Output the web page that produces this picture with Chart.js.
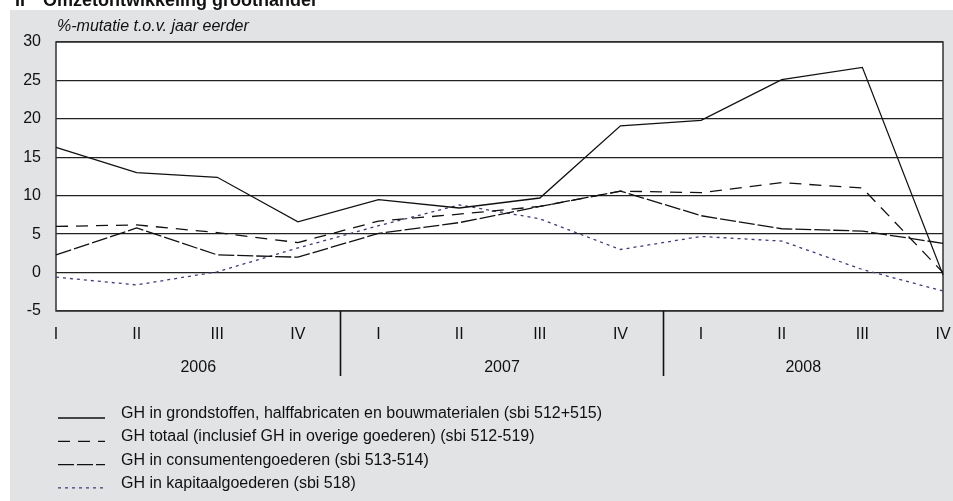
<!DOCTYPE html>
<html>
<head>
<meta charset="utf-8">
<script src="https://cdn.jsdelivr.net/npm/chart.js@4/dist/chart.umd.min.js"></script>
<style>
  html, body { margin: 0; padding: 0; background: #fff; }
  #wrap { width: 953px; height: 501px; }
</style>
</head>
<body>
<div id="wrap"><canvas id="omzetChart" width="953" height="501"></canvas></div>
<script>
// data
var quarters = ["I", "II", "III", "IV", "I", "II", "III", "IV", "I", "II", "III", "IV"];
var years = ["2006", "2007", "2008"];
var grondstoffen = [16.3, 13.0, 12.4, 6.6, 9.5, 8.4, 9.7, 19.1, 19.8, 25.1, 26.7, -0.3];
var totaal = [6.0, 6.2, 5.2, 3.9, 6.7, 7.6, 8.6, 10.6, 10.4, 11.7, 11.0, 0.0];
var consumenten = [2.3, 5.8, 2.3, 2.0, 5.1, 6.5, 8.6, 10.6, 7.4, 5.7, 5.4, 3.8];
var kapitaal = [-0.6, -1.6, 0.1, 3.2, 6.1, 8.8, 7.0, 3.0, 4.7, 4.1, 0.4, -2.4];
var seriesNames = [
    "GH in grondstoffen, halffabricaten en bouwmaterialen (sbi 512+515)",
    "GH totaal (inclusief GH in overige goederen) (sbi 512-519)",
    "GH in consumentengoederen (sbi 513-514)",
    "GH in kapitaalgoederen (sbi 518)"
];
var yTicks = [-5, 0, 5, 10, 15, 20, 25, 30];

var FONT = "'Liberation Sans', Arial, Helvetica, sans-serif";
var styles = [
    { color: '#111', dash: [] },
    { color: '#111', dash: [12, 8] },
    { color: '#111', dash: [16, 3] },
    { color: '#3c3c78', dash: [3, 4] }
];
var seriesData = [grondstoffen, totaal, consumenten, kapitaal];

var decorPlugin = {
    id: 'decor',
    beforeDraw: function (chart) {
        var ctx = chart.ctx, a = chart.chartArea;
        ctx.save();
        ctx.fillStyle = '#fff';
        ctx.fillRect(0, 0, chart.width, chart.height);
        ctx.fillStyle = '#e2e3e5';
        ctx.fillRect(10, 10, chart.width - 10, chart.height - 10);
        ctx.fillStyle = '#fff';
        ctx.fillRect(a.left, a.top, a.right - a.left, a.bottom - a.top);
        // cut-off heading at the very top
        ctx.fillStyle = '#111';
        ctx.font = 'bold 18px ' + FONT;
        ctx.textBaseline = 'alphabetic';
        ctx.fillText('II', 15, 6);
        ctx.fillText('Omzetontwikkeling groothandel', 43, 6);
        // unit label
        ctx.font = 'italic 16px ' + FONT;
        ctx.textBaseline = 'middle';
        ctx.fillText('%-mutatie t.o.v. jaar eerder', 57, 27);
        ctx.restore();
    },
    beforeDatasetsDraw: function (chart) {
        var ctx = chart.ctx, a = chart.chartArea, x = chart.scales.x;
        ctx.save();
        ctx.strokeStyle = '#333';
        ctx.lineWidth = 1.5;
        ctx.strokeRect(a.left, a.top, a.right - a.left, a.bottom - a.top);
        // year separators and year labels
        ctx.strokeStyle = '#111';
        ctx.lineWidth = 1.6;
        var bounds = [a.left];
        [3, 7].forEach(function (i) {
            var sx = Math.round((x.getPixelForValue(i) + x.getPixelForValue(i + 1)) / 2) + 2.5;
            bounds.push(sx);
            ctx.beginPath();
            ctx.moveTo(sx, a.bottom);
            ctx.lineTo(sx, 376);
            ctx.stroke();
        });
        bounds.push(a.right);
        ctx.fillStyle = '#111';
        ctx.font = '16px ' + FONT;
        ctx.textAlign = 'center';
        ctx.textBaseline = 'middle';
        years.forEach(function (yr, k) {
            ctx.fillText(yr, (bounds[k] + bounds[k + 1]) / 2, 368);
        });
        ctx.restore();
    },
    afterDraw: function (chart) {
        var ctx = chart.ctx;
        ctx.save();
        ctx.font = '16px ' + FONT;
        ctx.fillStyle = '#111';
        ctx.textBaseline = 'middle';
        seriesNames.forEach(function (name, i) {
            var ty = 413.5 + i * 23.3;
            ctx.fillText(name, 121, ty);
            ctx.strokeStyle = styles[i].color;
            ctx.lineWidth = 1.3;
            ctx.setLineDash(styles[i].dash);
            ctx.beginPath();
            ctx.moveTo(58, ty + 4.5);
            ctx.lineTo(105, ty + 4.5);
            ctx.stroke();
        });
        ctx.restore();
    }
};

var omzetChart = new Chart(document.getElementById('omzetChart'), {
    type: 'line',
    data: {
        labels: quarters,
        datasets: seriesData.map(function (d, i) {
            return {
                label: seriesNames[i],
                data: d,
                borderColor: styles[i].color,
                borderDash: styles[i].dash,
                borderWidth: 1.3,
                pointRadius: 0,
                tension: 0,
                fill: false
            };
        })
    },
    options: {
        responsive: false,
        animation: false,
        layout: { padding: { left: 0, top: 42, right: 10, bottom: 0 } },
        plugins: {
            legend: { display: false },
            tooltip: { enabled: false }
        },
        scales: {
            x: {
                type: 'category',
                offset: false,
                grid: { display: false },
                border: { display: false },
                ticks: {
                    autoSkip: false,
                    maxRotation: 0,
                    padding: 6,
                    color: '#111',
                    font: { family: FONT, size: 16 }
                },
                afterFit: function (scale) {
                    scale.height = 190;
                    scale.paddingLeft = 0;
                    scale.paddingRight = 0;
                }
            },
            y: {
                min: -5,
                max: 30,
                afterBuildTicks: function (scale) {
                    scale.ticks = yTicks.map(function (v) { return { value: v }; });
                },
                grid: { color: '#222', lineWidth: 1.3, drawTicks: false },
                border: { display: false },
                ticks: {
                    padding: 15,
                    color: '#111',
                    font: { family: FONT, size: 16 }
                },
                afterFit: function (scale) { scale.width = 56; }
            }
        }
    },
    plugins: [decorPlugin]
});
</script>
</body>
</html>
